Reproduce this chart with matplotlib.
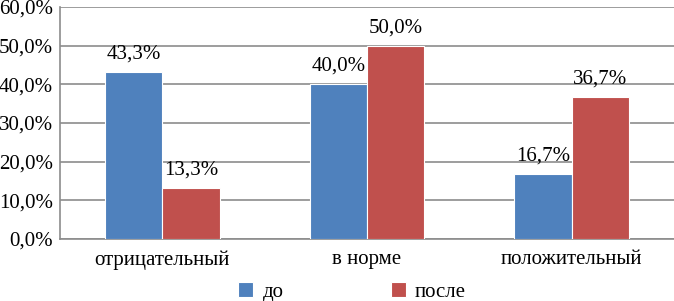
import numpy as np
import matplotlib.pyplot as plt

categories = ["отрицательный", "в норме", "положительный"]
do_vals = [43.3, 40.0, 16.7]
posle_vals = [13.3, 50.0, 36.7]
series_names = ["до", "после"]

plt.rcParams['font.family'] = ['Liberation Serif', 'DejaVu Serif']

fig = plt.figure(figsize=(6.74, 3.01), dpi=100)
ax = fig.add_axes([60 / 674, 1 - 239 / 301, 614 / 674, 232 / 301])

x = np.arange(len(categories))
w = 0.28
b1 = ax.bar(x - w / 2, do_vals, w, color="#4F81BD", edgecolor="white", linewidth=0.8,
            label=series_names[0], zorder=3)
b2 = ax.bar(x + w / 2, posle_vals, w, color="#C0504D", edgecolor="white", linewidth=0.8,
            label=series_names[1], zorder=3)

for bars, vals in [(b1, do_vals), (b2, posle_vals)]:
    for r, v in zip(bars, vals):
        ax.text(r.get_x() + r.get_width() / 2, v + 2.2, f"{v:.1f}%".replace(".", ","),
                ha="center", va="bottom", fontsize=15)

ax.set_xlim(-0.5, 2.5)
ax.set_ylim(0, 60)
ax.set_yticks(np.arange(0, 61, 10))
ax.set_yticklabels([f"{t:.1f}%".replace(".", ",") for t in np.arange(0, 61, 10)], fontsize=15)
ax.set_xticks(x)
ax.set_xticklabels(categories, fontsize=15)
ax.tick_params(axis="both", length=0)
ax.tick_params(axis="y", pad=5)
ax.tick_params(axis="x", pad=8)
ax.yaxis.grid(True, color="#8C8C8C", linewidth=1.2, zorder=0)
for s in ["top", "right"]:
    ax.spines[s].set_visible(False)
ax.spines["left"].set_color("#8C8C8C")
ax.spines["bottom"].set_color("#8C8C8C")
ax.spines["left"].set_linewidth(1.2)
ax.spines["bottom"].set_linewidth(1.2)

fig.legend(handles=[b1, b2], labels=series_names, loc="center", bbox_to_anchor=(352 / 674, 1 - 292 / 301),
           ncol=2, frameon=False, fontsize=15, handlelength=0.73, handleheight=0.73,
           columnspacing=5.14, handletextpad=0.45, borderpad=0, borderaxespad=0)

fig.savefig("out.png", dpi=100)
